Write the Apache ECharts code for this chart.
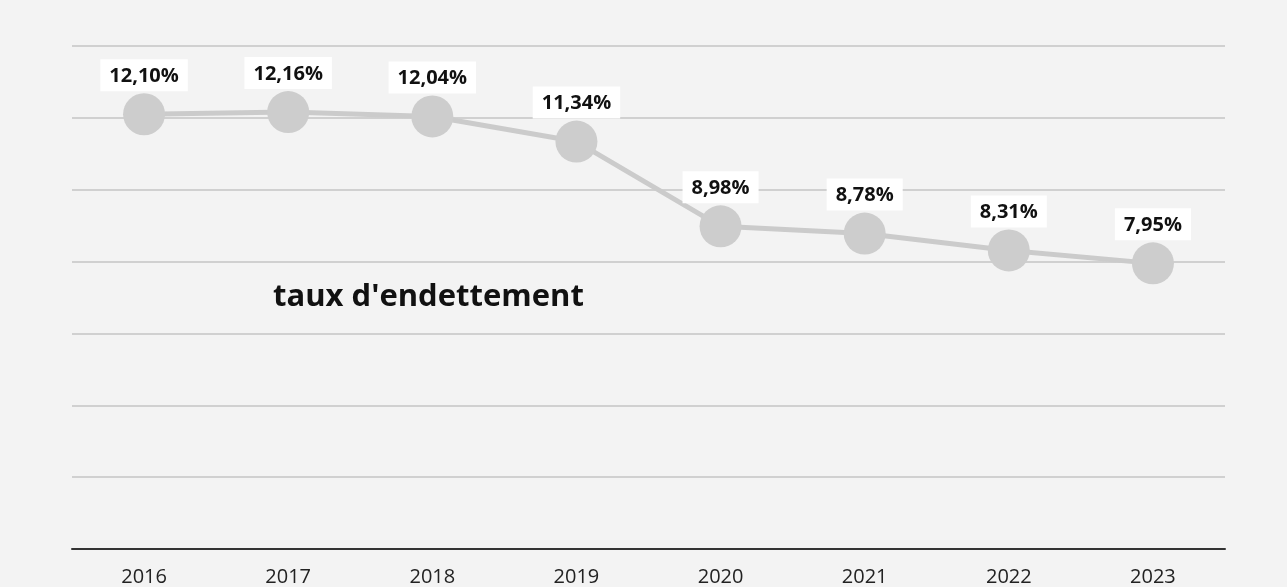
<!DOCTYPE html>
<html>

<head>
    <meta charset="utf-8" />
    <script src="https://cdn.jsdelivr.net/npm/echarts@6/dist/echarts.min.js"></script>
</head>

<body>
    <style>
        html,
        body {
            margin: 0;
            height: 100%;
            background: #fff;
        }

        #main {
            width: 1287px;
            height: 587px;
        }
    </style>
    <div id="main"></div>

    <script type="text/javascript">
        const years = ['2016', '2017', '2018', '2019', '2020', '2021', '2022', '2023'];
        const taux = [12.10, 12.16, 12.04, 11.34, 8.98, 8.78, 8.31, 7.95];

        var chart = echarts.init(document.getElementById('main'), null, { renderer: 'canvas' });
        chart.setOption({
            backgroundColor: '#f3f3f3',
            animation: false,
            textStyle: {
                fontFamily: '"Open Sans", sans-serif',
            },
            title: {
                text: "taux d'endettement",
                left: 268,
                top: 277,
                textStyle: {
                    fontSize: 31,
                    fontWeight: 'bold',
                    color: '#111',
                },
            },
            grid: {
                top: 46,
                bottom: 37,
                left: 72,
                right: 62,
            },
            xAxis: {
                type: 'category',
                data: years,
                boundaryGap: true,
                axisLine: {
                    lineStyle: { color: '#333', width: 2 },
                },
                axisTick: {
                    length: 6,
                    lineStyle: { color: '#333', width: 2 },
                },
                axisLabel: {
                    fontSize: 20,
                    color: '#222',
                    margin: 18,
                },
            },
            yAxis: {
                type: 'value',
                min: 0,
                max: 14,
                interval: 2,
                axisLabel: { show: false },
                axisLine: { show: false },
                axisTick: { show: false },
                splitLine: {
                    lineStyle: { color: '#c4c4c4', width: 1.5 },
                },
            },
            series: [
                {
                    type: 'line',
                    data: taux,
                    symbol: 'circle',
                    symbolSize: 42,
                    itemStyle: { color: '#cdcdcd' },
                    lineStyle: { color: '#cbcbcb', width: 5 },
                    label: {
                        show: true,
                        position: 'top',
                        distance: 2,
                        fontSize: 20,
                        fontWeight: 'bold',
                        color: '#111',
                        backgroundColor: '#fff',
                        padding: [7, 9, 5, 9],
                        formatter: (p) => p.value.toFixed(2).replace('.', ',') + '%',
                    },
                },
            ],
        });
    </script>
</body>

</html>
